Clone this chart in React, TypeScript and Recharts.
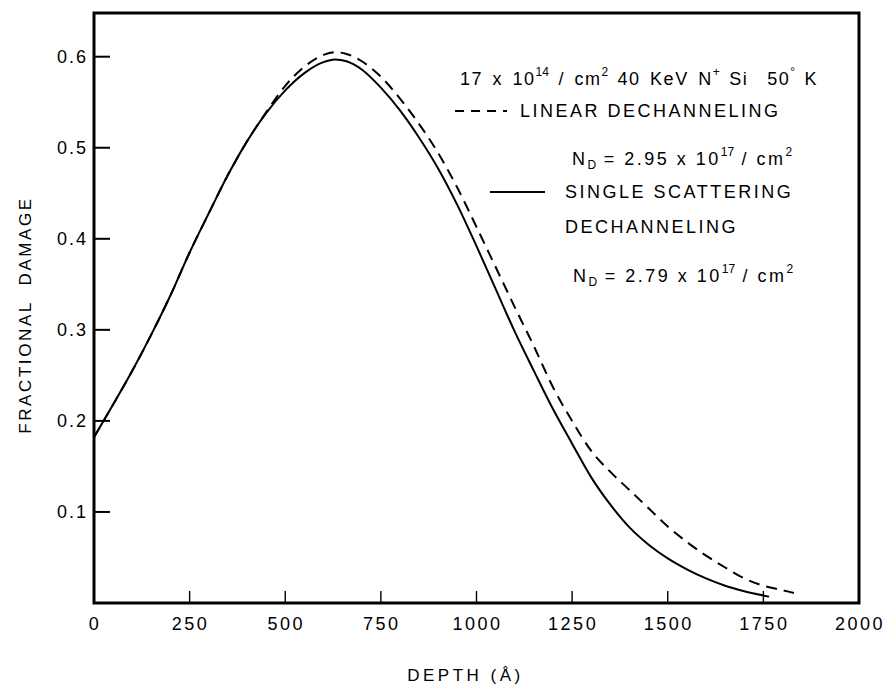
import React from "react";
import {
  LineChart,
  Line,
  XAxis,
  YAxis,
  ReferenceArea,
  Legend
} from "recharts";

// Depth (Å) and fractional damage for the single scattering dechanneling fit
const depthSingle = [
  0, 50, 100, 150, 200, 250, 300, 350, 400, 450, 500, 550, 600, 630, 660, 700,
  750, 800, 850, 900, 950, 1000, 1050, 1100, 1150, 1200, 1250, 1300, 1350,
  1400, 1450, 1500, 1550, 1600, 1650, 1700, 1765
];
const damageSingle = [
  0.182, 0.218, 0.255, 0.295, 0.338, 0.385, 0.428, 0.47, 0.507, 0.538, 0.563,
  0.582, 0.594, 0.597, 0.595, 0.586, 0.566, 0.541, 0.511, 0.477, 0.437, 0.392,
  0.345, 0.298, 0.255, 0.213, 0.175, 0.138, 0.108, 0.083, 0.064, 0.049, 0.037,
  0.027, 0.019, 0.013, 0.007
];

// Depth (Å) and fractional damage for the linear dechanneling fit
const depthLinear = [
  0, 50, 100, 150, 200, 250, 300, 350, 400, 450, 500, 550, 600, 630, 660, 700,
  750, 800, 850, 900, 950, 1000, 1050, 1100, 1150, 1200, 1250, 1300, 1350,
  1400, 1450, 1500, 1550, 1600, 1650, 1700, 1750, 1800, 1830
];
const damageLinear = [
  0.182, 0.218, 0.255, 0.295, 0.338, 0.385, 0.428, 0.47, 0.507, 0.539, 0.568,
  0.589, 0.602, 0.605, 0.603, 0.595, 0.578, 0.554, 0.526, 0.494, 0.456, 0.413,
  0.369, 0.325, 0.282, 0.237, 0.2, 0.167, 0.144, 0.124, 0.104, 0.084, 0.067,
  0.052, 0.039, 0.027, 0.019, 0.014, 0.011
];

const depthTicks = [0, 250, 500, 750, 1000, 1250, 1500, 1750, 2000];
const damageTicks = [0.1, 0.2, 0.3, 0.4, 0.5, 0.6];

const DEPTH_MAX = 2000;
const DAMAGE_MAX = 0.648;

const FONT = "'Liberation Sans', Arial, sans-serif";

const singleData = depthSingle.map((d, i) => ({ depth: d, damage: damageSingle[i] }));
const linearData = depthLinear.map((d, i) => ({ depth: d, damage: damageLinear[i] }));

const DepthTick = ({ x, y, payload }: any) => (
  <g>
    <line x1={x} x2={x} y1={y} y2={y - 12} stroke="#000" strokeWidth={1.4} />
    <text
      x={x + 1}
      y={y + 27}
      textAnchor="middle"
      fontFamily={FONT}
      fontSize={18}
      letterSpacing={2.5}
      fill="#000"
    >
      {payload.value}
    </text>
  </g>
);

const DamageTick = ({ x, y, payload }: any) => (
  <g>
    <line x1={x} x2={x + 16} y1={y} y2={y} stroke="#000" strokeWidth={2} />
    <text
      x={x - 6}
      y={y + 6}
      textAnchor="end"
      fontFamily={FONT}
      fontSize={18}
      letterSpacing={2}
      fill="#000"
    >
      {payload.value.toFixed(1)}
    </text>
  </g>
);

const txt: React.CSSProperties = {
  position: "absolute",
  whiteSpace: "nowrap",
  fontFamily: FONT,
  fontSize: 18,
  letterSpacing: 2.5,
  lineHeight: "18px",
  color: "#000"
};
const sup: React.CSSProperties = { fontSize: 12, verticalAlign: "9px", letterSpacing: 0 };
const sub: React.CSSProperties = { fontSize: 12, verticalAlign: "-4px", letterSpacing: 0 };

// Run conditions and curve key, drawn inside the upper right of the frame
const Annotations = () => (
  <div style={{ position: "relative", width: 896, height: 0 }}>
    <div style={{ ...txt, left: 460, top: 63, letterSpacing: 1.5, wordSpacing: 3 }}>
      17 x 10<span style={sup}>14</span> / cm<span style={sup}>2</span> 40 KeV N
      <span style={sup}>+</span> Si&nbsp;&nbsp;50<span style={sup}>°</span> K
    </div>
    <svg style={{ position: "absolute", left: 452, top: 104 }} width={60} height={14}>
      <line x1={3} x2={55} y1={7} y2={7} stroke="#000" strokeWidth={2} strokeDasharray="9 7" />
    </svg>
    <div style={{ ...txt, left: 520, top: 102 }}>LINEAR DECHANNELING</div>
    <div style={{ ...txt, left: 572, top: 143 }}>
      N<span style={sub}>D</span> = 2.95 x 10<span style={sup}>17</span> / cm
      <span style={sup}>2</span>
    </div>
    <svg style={{ position: "absolute", left: 488, top: 185 }} width={60} height={14}>
      <line x1={2} x2={57} y1={7} y2={7} stroke="#000" strokeWidth={2} />
    </svg>
    <div style={{ ...txt, left: 565, top: 183 }}>SINGLE SCATTERING</div>
    <div style={{ ...txt, left: 565, top: 218 }}>DECHANNELING</div>
    <div style={{ ...txt, left: 573, top: 260 }}>
      N<span style={sub}>D</span> = 2.79 x 10<span style={sup}>17</span> / cm
      <span style={sup}>2</span>
    </div>
  </div>
);

const DamageTitle = ({ viewBox }: any) => {
  const cx = viewBox.x - 7;
  const cy = viewBox.y + viewBox.height / 2 + 7;
  return (
    <text
      x={cx}
      y={cy}
      transform={`rotate(-90 ${cx} ${cy})`}
      textAnchor="middle"
      dominantBaseline="middle"
      fontFamily={FONT}
      fontSize={17}
      letterSpacing={2.6}
      fill="#000"
    >
      FRACTIONAL&nbsp;&nbsp;DAMAGE
    </text>
  );
};

const DepthTitle = ({ viewBox }: any) => (
  <text
    x={viewBox.x + viewBox.width / 2 - 11}
    y={681}
    textAnchor="middle"
    fontFamily={FONT}
    fontSize={17}
    letterSpacing={3.5}
    fill="#000"
  >
    DEPTH (Å)
  </text>
);

export default function App() {
  return (
    <div style={{ margin: -8, width: 896, height: 692, background: "#fff" }}>
      <LineChart
        width={896}
        height={692}
        margin={{ top: 13, right: 37, bottom: 29, left: 34 }}
      >
        <XAxis
          type="number"
          dataKey="depth"
          domain={[0, DEPTH_MAX]}
          ticks={depthTicks}
          height={60}
          axisLine={false}
          tickLine={false}
          tickSize={0}
          tickMargin={0}
          tick={<DepthTick />}
          label={<DepthTitle />}
          allowDataOverflow
        />
        <YAxis
          type="number"
          dataKey="damage"
          domain={[0, DAMAGE_MAX]}
          ticks={damageTicks}
          width={60}
          axisLine={false}
          tickLine={false}
          tickSize={0}
          tickMargin={0}
          tick={<DamageTick />}
          label={<DamageTitle />}
          allowDataOverflow
        />
        <ReferenceArea
          x1={0}
          x2={DEPTH_MAX}
          y1={0}
          y2={DAMAGE_MAX}
          fill="none"
          stroke="#000"
          strokeWidth={3}
          ifOverflow="visible"
        />
        <Legend
          verticalAlign="middle"
          align="center"
          layout="horizontal"
          wrapperStyle={{ top: 0, left: 0, width: 896, height: 0 }}
          content={() => <Annotations />}
        />
        <Line
          data={linearData}
          dataKey="damage"
          name="Linear dechanneling"
          type="monotone"
          stroke="#000"
          strokeWidth={2}
          strokeDasharray="11 7"
          dot={false}
          isAnimationActive={false}
        />
        <Line
          data={singleData}
          dataKey="damage"
          name="Single scattering dechanneling"
          type="monotone"
          stroke="#000"
          strokeWidth={2}
          dot={false}
          isAnimationActive={false}
        />
      </LineChart>
    </div>
  );
}
